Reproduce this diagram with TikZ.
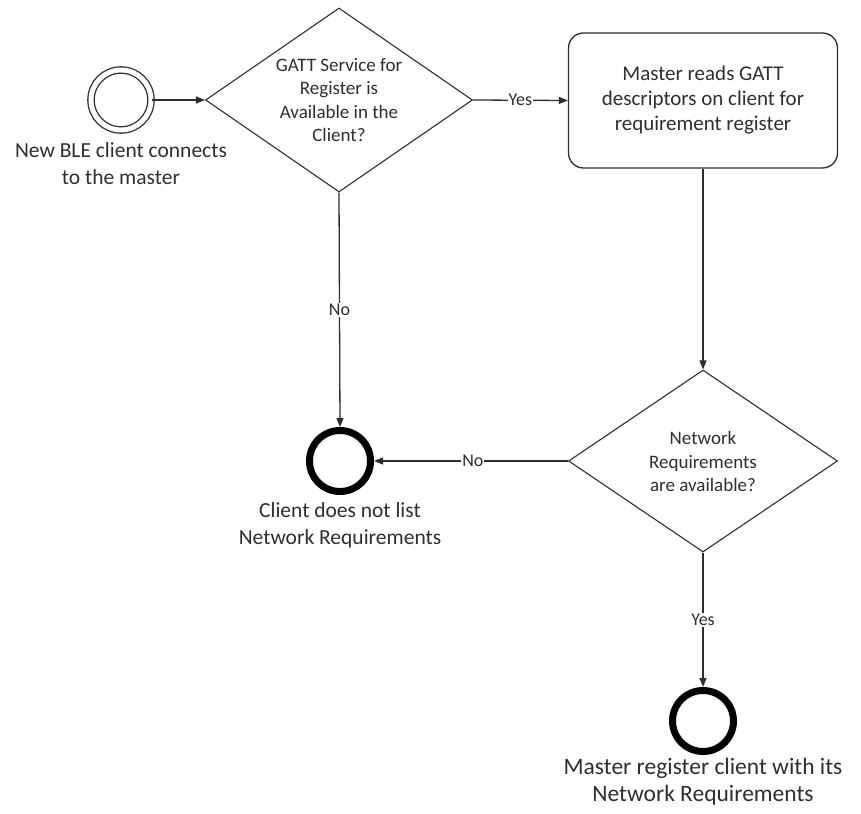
\documentclass[tikz,border=0pt]{standalone}
\usepackage{fontspec}
\setmainfont{Carlito}
\usetikzlibrary{shapes.geometric,arrows.meta}
\definecolor{ink}{HTML}{2E2E2E}
\begin{document}
\begin{tikzpicture}[x=1pt,y=-1pt,
  line/.style={draw=ink,line width=1.3pt},
  arr/.style={line,-{Triangle[length=9pt,width=7pt]}},
  decision/.style={diamond,draw=ink,line width=1.1pt,inner sep=0pt},
  dtext/.style={text=ink,align=center,font=\fontsize{19}{23.3}\selectfont},
  task/.style={draw=ink,line width=1.3pt,rounded corners=15pt,minimum width=269pt,minimum height=135pt,inner sep=0pt},
  endev/.style={circle,draw=black,line width=7pt,minimum size=61pt,inner sep=0pt},
  startev/.style={circle,draw=ink,double=white,double distance=5pt,line width=1.3pt,minimum size=60pt,inner sep=0pt},
  evlabel/.style={text=ink,align=center,font=\fontsize{21.5}{27}\selectfont},
  elab/.style={fill=white,text=ink,inner sep=1pt,font=\fontsize{18}{20}\selectfont}]
\useasboundingbox (0,0) rectangle (861,813);
\node[startev] (start) at (121,100) {};
\node[evlabel] (startlbl) at (121,163.5) {New BLE client connects\\to the master};
\node[decision,minimum width=267pt,minimum height=184pt] (d1) at (339,100) {};
\node[dtext] (d1t) at (339,100) {GATT Service for\\Register is\\Available in the\\Client?};
\node[task] (task) at (703,100.5) {};
\node[text=ink,align=center,font=\fontsize{21}{25}\selectfont] (taskt) at (703,100) {Master reads GATT\\descriptors on client for\\requirement register};
\node[decision,minimum width=269pt,minimum height=182pt] (d2) at (703,461) {};
\node[dtext] (d2t) at (703,461.5) {Network\\Requirements\\are available?};
\node[endev] (e1) at (340,461) {};
\node[evlabel] (e1lbl) at (340,525) {Client does not list\\Network Requirements};
\node[endev] (e2) at (703,721) {};
\node[evlabel,font=\fontsize{23.5}{27}\selectfont] (e2lbl) at (703,782) {Master register client with its\\Network Requirements};
\draw[arr] (start.east) -- (d1.west);
\draw[arr] (d1.east) -- node[elab] (yes1) {Yes} (task.west);
\draw[arr] (d1.south) -- node[elab,pos=0.5] (no1) {No} (e1.north);
\draw[arr] (task.south) -- (d2.north);
\draw[arr] (d2.west) -- node[elab,pos=0.49] (no2) {No} (e1.east);
\draw[arr] (d2.south) -- node[elab,pos=0.5] (yes2) {Yes} (e2.north);
\end{tikzpicture}
\end{document}
